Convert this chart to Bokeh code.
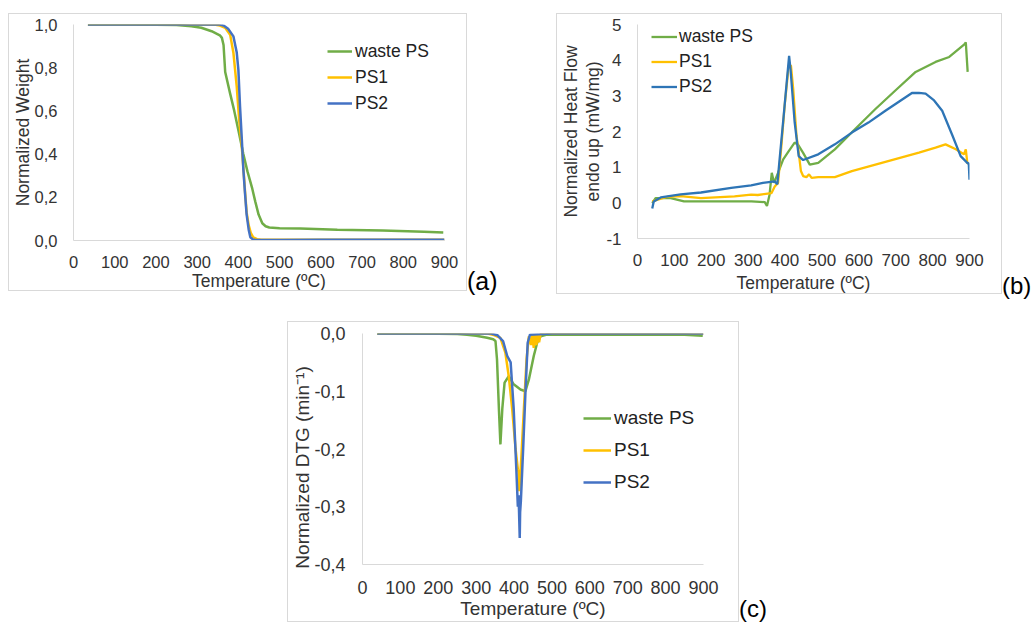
import math
from bokeh.plotting import figure
from bokeh.models import Range1d, FixedTicker, Legend, LegendItem, Div, Spacer
from bokeh.layouts import row, column
from bokeh.embed import file_html
from bokeh.resources import INLINE

# ---------------- data ----------------
series_names = ["waste PS", "PS1", "PS2"]

x_ticks = [0, 100, 200, 300, 400, 500, 600, 700, 800, 900]
x_tick_labels = ["0", "100", "200", "300", "400", "500", "600", "700", "800", "900"]

ya_ticks = [0.0, 0.2, 0.4, 0.6, 0.8, 1.0]
ya_tick_labels = ["0,0", "0,2", "0,4", "0,6", "0,8", "1,0"]
yb_ticks = [-1, 0, 1, 2, 3, 4, 5]
yb_tick_labels = ["-1", "0", "1", "2", "3", "4", "5"]
yc_ticks = [-0.4, -0.3, -0.2, -0.1, 0.0]
yc_tick_labels = ["-0,4", "-0,3", "-0,2", "-0,1", "0,0"]

# (a) TGA: normalized weight
a_T_waste = [35, 150, 250, 286, 310, 335, 355, 360, 364, 368, 380, 390, 400, 412, 422, 433, 441, 449, 458, 466, 475, 500, 550, 640, 750, 850, 897]
a_W_waste = [1.0, 1.0, 0.998, 0.992, 0.985, 0.969, 0.950, 0.938, 0.905, 0.78, 0.68, 0.60, 0.51, 0.40, 0.32, 0.245, 0.18, 0.12, 0.08, 0.066, 0.060, 0.057, 0.055, 0.050, 0.046, 0.041, 0.037]
a_T_ps1 = [35, 200, 300, 345, 355, 368, 380, 388, 396, 402, 408, 412, 416, 420, 425, 430, 436, 445, 455, 500, 600, 700, 800, 900]
a_W_ps1 = [1.0, 1.0, 1.0, 0.999, 0.995, 0.985, 0.953, 0.868, 0.712, 0.556, 0.44, 0.34, 0.23, 0.13, 0.07, 0.035, 0.015, 0.006, 0.004, 0.004, 0.004, 0.004, 0.004, 0.004]
a_T_ps2 = [35, 200, 300, 355, 364, 375, 388, 396, 400, 404, 408, 412, 416, 420, 425, 429, 435, 441, 500, 600, 700, 800, 900]
a_W_ps2 = [1.0, 1.0, 1.0, 1.0, 0.995, 0.98, 0.945, 0.87, 0.79, 0.62, 0.48, 0.33, 0.22, 0.12, 0.05, 0.015, 0.005, 0.002, 0.002, 0.003, 0.003, 0.003, 0.003]

# (b) DSC: normalized heat flow
b_T_waste = [40, 49, 90, 126, 163, 218, 309, 345, 351, 358, 364, 370, 381, 395, 410, 426, 436, 449, 467, 490, 535, 590, 645, 699, 754, 808, 845, 886, 890, 895]
b_V_waste = [-0.01, 0.13, 0.13, 0.04, 0.04, 0.04, 0.04, 0.02, -0.09, 0.23, 0.84, 0.56, 0.84, 1.22, 1.45, 1.69, 1.62, 1.40, 1.07, 1.12, 1.50, 2.07, 2.63, 3.15, 3.67, 3.95, 4.09, 4.44, 4.50, 3.67]
b_T_ps1 = [40, 81, 117, 172, 263, 308, 326, 363, 372, 381, 390, 399, 410, 416, 422, 431, 436, 443, 449, 458, 465, 472, 490, 535, 581, 672, 763, 808, 835, 863, 885, 890, 894, 898]
b_V_ps1 = [0.04, 0.17, 0.19, 0.13, 0.18, 0.23, 0.22, 0.27, 0.46, 0.56, 1.59, 2.73, 3.86, 3.85, 3.2, 1.88, 1.5, 0.89, 0.75, 0.72, 0.8, 0.70, 0.72, 0.72, 0.89, 1.15, 1.41, 1.55, 1.64, 1.50, 1.36, 1.50, 1.12, 1.10]
b_T_ps2 = [40, 44, 63, 117, 172, 254, 308, 340, 372, 379, 385, 395, 411, 415, 426, 437, 449, 490, 535, 581, 626, 672, 744, 763, 781, 804, 826, 854, 876, 894, 898, 900]
b_V_ps2 = [-0.16, 0.04, 0.15, 0.24, 0.29, 0.42, 0.49, 0.56, 0.60, 0.52, 1.2, 2.3, 4.12, 3.72, 2.26, 1.31, 1.2, 1.36, 1.64, 1.97, 2.25, 2.58, 3.08, 3.08, 3.06, 2.87, 2.58, 1.88, 1.31, 1.12, 1.10, 0.65]

# (c) DTG
c_T_waste = [39, 150, 250, 276, 300, 329, 345, 351, 355, 360, 364, 369, 375, 386, 399, 417, 430, 439, 452, 461, 470, 487, 550, 650, 750, 850, 898]
c_D_waste = [0.0, 0.0, -0.001, -0.002, -0.004, -0.0075, -0.010, -0.013, -0.045, -0.13, -0.192, -0.13, -0.085, -0.074, -0.088, -0.097, -0.100, -0.080, -0.039, -0.016, -0.005, -0.002, -0.002, -0.002, -0.002, -0.002, -0.004]
c_T_ps1 = [39, 200, 330, 344, 364, 377, 386, 395, 404, 410, 412, 414, 416, 419, 426, 433, 439, 445, 448, 452, 455, 459, 462, 466, 470, 480, 600, 750, 900]
c_D_ps1 = [0.0, 0.0, 0.0, -0.002, -0.0075, -0.033, -0.074, -0.13, -0.20, -0.235, -0.24, -0.273, -0.25, -0.218, -0.13, -0.045, -0.005, -0.02, -0.002, -0.025, -0.003, -0.02, -0.002, -0.015, -0.001, 0.0, 0.0, 0.0, 0.0]
c_T_ps2 = [39, 200, 340, 356, 371, 382, 391, 399, 406, 410, 412, 414, 415, 416, 418, 424, 430, 436, 442, 500, 650, 800, 900]
c_D_ps2 = [0.0, 0.0, 0.0, -0.003, -0.013, -0.039, -0.05, -0.13, -0.235, -0.30, -0.28, -0.33, -0.354, -0.31, -0.29, -0.20, -0.103, -0.016, -0.002, 0.0, 0.0, 0.0, 0.0]

x_title = "Temperature (ºC)"
ya_title = "Normalized Weight"
yb_title = "Normalized Heat Flow\nendo up (mW/mg)"
yc_title = "Normalized DTG (min⁻¹)"
panel_tags = ["(a)", "(b)", "(c)"]

# ---------------- style ----------------
FONT = "Liberation Sans"
TXT = "#333333"
AXIS = "#D9D9D9"
GREEN = "#70AD47"
YELLOW = "#FFC000"
BLUE = "#4472C4"
BLUE_B = "#2E75B6"
NBSP = "\u00a0"


def panel(size, mbl, mbr, mbt, mbb, xr, yr, frame=False):
    kw = dict(frame_width=size[0], frame_height=size[1]) if frame else dict(width=size[0], height=size[1])
    p = figure(x_range=Range1d(*xr), y_range=Range1d(*yr),
               output_backend="svg", toolbar_location=None,
               min_border_left=mbl, min_border_right=mbr,
               min_border_top=mbt, min_border_bottom=mbb, **kw)
    p.styles = {"border": "1px solid " + AXIS}
    p.xgrid.visible = False
    p.ygrid.visible = False
    p.outline_line_color = None
    p.background_fill_color = "white"
    p.border_fill_color = "white"
    return p


def style_axes(p, yt, ylab, tick_size, lab_size, xs, xls, ys, yls):
    for ax in (p.xaxis[0], p.yaxis[0]):
        ax.axis_line_color = AXIS
        ax.axis_line_width = 1
        ax.major_tick_line_color = None
        ax.minor_tick_line_color = None
        ax.major_tick_out = 0
        ax.major_tick_in = 0
        ax.minor_tick_out = 0
        ax.minor_tick_in = 0
        ax.major_label_text_font = FONT
        ax.major_label_text_font_size = tick_size
        ax.major_label_text_color = TXT
        ax.axis_label_text_font = FONT
        ax.axis_label_text_font_size = lab_size
        ax.axis_label_text_font_style = "normal"
        ax.axis_label_text_color = TXT
    xa = p.xaxis[0]
    xa.ticker = FixedTicker(ticks=x_ticks)
    xa.major_label_overrides = dict(zip(x_ticks, x_tick_labels))
    xa.axis_label = x_title
    xa.major_label_standoff = xs
    xa.axis_label_standoff = xls
    ya = p.yaxis[0]
    ya.ticker = FixedTicker(ticks=yt[0])
    ya.major_label_overrides = dict(zip(yt[0], yt[1]))
    ya.axis_label = ylab
    ya.major_label_standoff = ys
    ya.axis_label_standoff = yls


def add_legend(p, rends, loc, gw, gh, std, size):
    items = [LegendItem(label=n, renderers=[r]) for n, r in zip(series_names, rends)]
    lg = Legend(items=items, location=loc, glyph_width=gw, glyph_height=gh,
                label_height=gh, label_standoff=std, spacing=0, padding=0, margin=0,
                border_line_color=None, background_fill_alpha=0,
                label_text_font=FONT, label_text_font_size=size, label_text_color="#222222")
    p.add_layout(lg)


# ---- (a)
pa = panel((369, 214), 64, 24, 9, 53, (0, 900), (0, 1.0), frame=True)
style_axes(pa, (ya_ticks, ya_tick_labels), ya_title, "16.5px", "17.5px", 15, 0, 16, -1)
ra = [pa.line(a_T_waste, a_W_waste, line_color=GREEN, line_width=2.5),
      pa.line(a_T_ps1, a_W_ps1, line_color=YELLOW, line_width=2.5),
      pa.line(a_T_ps2, a_W_ps2, line_color=BLUE, line_width=2.5)]
add_legend(pa, ra, (254, 124), 25, 26, 3, "17.5px")

# ---- (b)
pb = panel((330, 212), 80, 34, 10, 57, (0, 900), (-1, 5), frame=True)
style_axes(pb, (yb_ticks, yb_tick_labels), yb_title, "17px", "17.5px", 15, 4, 16, 0)
pb.yaxis[0].axis_label_text_line_height = 1.13
rb = [pb.line(b_T_waste, b_V_waste, line_color=GREEN, line_width=2.3),
      pb.line(b_T_ps1, b_V_ps1, line_color=YELLOW, line_width=2.3),
      pb.line(b_T_ps2, b_V_ps2, line_color=BLUE_B, line_width=2.3)]
add_legend(pb, rb, (14, 139), 26, 25, 2, "17.5px")

# ---- (c)
pc = panel((452, 301), 74, 37, 11, 59, (0, 900), (-0.4, 0.0))
style_axes(pc, (yc_ticks, yc_tick_labels), yc_title + NBSP * 7, "18px", "19px", 16, 1, 17, -2)
rc = [pc.line(c_T_waste, c_D_waste, line_color=GREEN, line_width=2.5),
      pc.line(c_T_ps1, c_D_ps1, line_color=YELLOW, line_width=2.5),
      pc.line(c_T_ps2, c_D_ps2, line_color=BLUE, line_width=2.5)]
add_legend(pc, rc, (221, 66), 28, 32, 3, "19px")


def tag(t, w, h, top, size):
    html = ('<div style="margin-top:%dpx;font-family:\'Liberation Sans\',Arial,sans-serif;'
            'font-size:%spx;line-height:%spx;color:#000;white-space:nowrap;">%s</div>' % (top, size, size, t))
    return Div(text=html, width=w, height=h, margin=0)


da = tag(panel_tags[0], 89, 280, 256, 25)
db = tag(panel_tags[1], 31, 286, 261, 24)
dc = tag(panel_tags[2], 40, 303, 276, 24)

layout = column(
    Spacer(width=1, height=13),
    row(Spacer(width=8, height=1), pa, da, pb, db),
    Spacer(width=1, height=22),
    row(Spacer(width=287, height=1), pc, dc),
)

open("out.html", "w").write(file_html(layout, INLINE))
